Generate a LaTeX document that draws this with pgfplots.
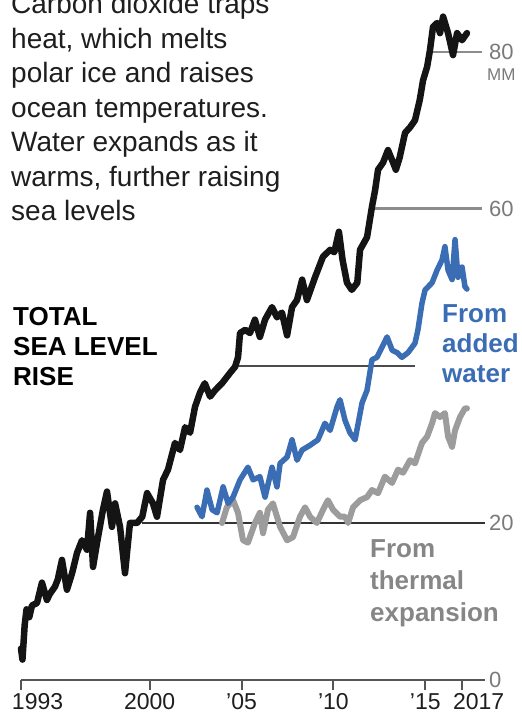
\documentclass[border=0pt]{standalone}
\usepackage{fontspec}
\setmainfont{Liberation Sans}
\usepackage{pgfplots}
\pgfplotsset{compat=1.18}
\usepackage{pgfplotstable}

\definecolor{totalc}{HTML}{141414}
\definecolor{waterc}{HTML}{3A6DB4}
\definecolor{thermc}{HTML}{9C9C9C}
\definecolor{thermtxt}{HTML}{868686}
\definecolor{gridc}{HTML}{8C8C8C}
\definecolor{axisc}{HTML}{555555}
\definecolor{tickc}{HTML}{7A7A7A}
\definecolor{bodyc}{HTML}{1E1E1E}

% total sea level rise, mm
\pgfplotstableread{
year mm
1993.00 4.0
1993.08 2.6
1993.20 7.0
1993.30 9.0
1993.45 8.0
1993.60 9.5
1993.87 9.8
1994.14 12.4
1994.41 10.2
1994.58 11.0
1994.85 11.9
1995.00 12.8
1995.23 15.3
1995.50 11.5
1995.78 13.6
1996.05 16.2
1996.32 17.8
1996.59 16.6
1996.76 21.3
1996.92 14.4
1997.14 17.5
1997.46 21.7
1997.68 24.0
1997.95 19.5
1998.12 22.5
1998.39 19.5
1998.66 13.6
1998.93 20.0
1999.31 20.0
1999.60 20.8
1999.86 23.8
2000.18 22.5
2000.40 20.8
2000.73 25.5
2001.00 26.8
2001.38 30.2
2001.65 29.3
2001.93 32.2
2002.20 31.5
2002.47 34.8
2002.74 36.6
2003.00 37.8
2003.29 36.1
2003.56 36.9
2003.94 37.8
2004.37 39.1
2004.65 39.9
2004.81 41.1
2004.92 44.2
2005.20 44.6
2005.46 44.2
2005.73 45.9
2006.00 43.7
2006.28 45.9
2006.66 47.5
2006.93 46.2
2007.20 46.8
2007.48 43.9
2007.75 47.5
2008.02 48.4
2008.30 51.0
2008.56 48.4
2009.00 51.3
2009.43 53.9
2009.82 54.8
2010.05 54.5
2010.30 57.1
2010.50 53.5
2010.74 50.6
2011.00 49.7
2011.30 50.6
2011.45 54.8
2011.83 56.4
2012.10 60.3
2012.27 62.4
2012.43 65.0
2012.70 65.9
2012.97 67.5
2013.25 65.9
2013.40 65.0
2013.60 66.5
2013.90 69.7
2014.17 70.4
2014.44 71.3
2014.70 73.9
2014.88 76.4
2015.10 78.1
2015.26 80.3
2015.42 83.2
2015.64 83.7
2015.80 82.4
2015.97 84.5
2016.24 82.4
2016.51 79.6
2016.73 82.4
2017.00 81.5
2017.27 82.4
}\totaltable

% from added water
\pgfplotstableread{
year mm
2002.58 22.0
2002.85 20.8
2003.12 24.2
2003.40 21.7
2003.67 21.3
2004.00 24.6
2004.27 22.5
2004.54 23.3
2004.92 25.5
2005.35 27.1
2005.63 25.5
2006.00 25.9
2006.28 23.3
2006.66 27.1
2006.93 24.6
2007.10 27.6
2007.48 28.4
2007.75 30.6
2008.02 28.0
2008.30 29.3
2008.73 29.9
2009.16 30.6
2009.54 32.7
2009.82 31.8
2010.20 34.8
2010.36 35.7
2010.63 33.1
2010.90 31.5
2011.18 30.6
2011.56 35.3
2011.83 36.9
2012.10 40.8
2012.37 41.1
2012.65 42.4
2012.92 43.7
2013.20 42.0
2013.47 41.7
2013.73 41.1
2014.06 41.7
2014.44 42.9
2014.60 44.6
2014.82 48.0
2014.99 49.7
2015.37 50.6
2015.64 52.2
2015.91 53.5
2016.07 55.2
2016.24 52.2
2016.46 51.0
2016.62 56.1
2016.78 51.3
2017.00 52.6
2017.16 50.1
2017.27 49.8
}\watertable

% from thermal expansion
\pgfplotstableread{
year mm
2003.94 20.0
2004.20 22.0
2004.54 22.9
2004.81 21.3
2005.08 17.8
2005.35 17.5
2005.73 20.0
2006.00 21.3
2006.17 18.7
2006.44 21.7
2006.71 22.5
2007.10 19.5
2007.48 17.8
2007.80 18.2
2008.18 20.8
2008.46 22.0
2008.73 20.8
2009.10 20.0
2009.44 21.7
2009.70 22.9
2009.98 21.7
2010.36 20.8
2010.63 20.8
2010.80 20.0
2011.07 22.0
2011.45 22.9
2011.83 23.3
2012.10 24.2
2012.43 23.8
2012.80 25.9
2013.19 25.1
2013.52 26.8
2013.79 26.4
2014.17 28.0
2014.44 27.6
2014.82 30.2
2015.10 31.0
2015.37 32.7
2015.53 34.0
2015.80 33.5
2016.07 34.0
2016.24 31.0
2016.46 29.7
2016.62 31.8
2016.89 33.5
2017.16 34.6
2017.27 34.6
}\thermtable

\newcommand{\bodyfont}{\fontsize{28}{34}\selectfont}
\newcommand{\labfont}{\bfseries\fontsize{26}{30}\selectfont}

\begin{document}
\begin{tikzpicture}
\begin{axis}[
  scale only axis,
  width=464pt, height=680pt,
  xmin=1993, xmax=2018.25,
  ymin=0, ymax=86.62,
  clip=false,
  axis x line*=bottom,
  axis y line*=right,
  x axis line style={draw=axisc, line width=2.5pt},
  y axis line style={draw=none},
  xtick={1993,2000,2005,2010,2015,2017},
  xticklabels={\makebox[0pt][l]{\kern-9pt 1993},2000,’05,’10,’15,\makebox[0pt][l]{\kern-9pt 2017}},
  xtick align=outside,
  major tick length=10pt,
  xtick style={draw=axisc, line width=2pt},
  xticklabel style={font=\fontsize{23}{27}\selectfont, text=bodyc},
  ytick={0,20,60,80},
  yticklabels={0,20,60,80},
  ytick style={draw=none},
  yticklabel style={font=\fontsize{22}{26}\selectfont, text=tickc, anchor=west, inner sep=0pt, xshift=4pt},
]
% partial reference lines
\draw[gridc, line width=1.5pt] (axis cs:2015.42,80) -- (axis cs:2018.1,80);
\draw[gridc, line width=3pt] (axis cs:2012.15,60) -- (axis cs:2018.1,60);
\draw[black!70, line width=1.3pt] (axis cs:2004.6,40) -- (axis cs:2014.45,40);
\draw[black!80, line width=1.5pt] (axis cs:1999.6,20) -- (axis cs:2018.25,20);

\addplot[thermc, line width=6pt, line join=round, line cap=round] table[x=year, y=mm] {\thermtable};
\addplot[waterc, line width=5.5pt, line join=round, line cap=round] table[x=year, y=mm] {\watertable};
\addplot[totalc, line width=6.5pt, line join=round, line cap=round] table[x=year, y=mm] {\totaltable};
\end{axis}

\begin{scope}[shift={([xshift=-21pt,yshift=680pt]current axis.south west)}, x=1pt, y=-1pt]
\begin{scope}[every node/.style={anchor=base west, inner sep=0pt, font=\bodyfont, text=bodyc}]
\node at (11,14) {Carbon dioxide traps};
\node at (11,48.5) {heat, which melts};
\node at (11,83) {polar ice and raises};
\node at (11,117.5) {ocean temperatures.};
\node at (11,152) {Water expands as it};
\node at (11,186.5) {warms, further raising};
\node at (11,221) {sea levels};
\end{scope}
\begin{scope}[every node/.style={anchor=base west, inner sep=0pt, font=\labfont}]
\node[text=black] at (13,326) {TOTAL};
\node[text=black] at (13,356) {SEA LEVEL};
\node[text=black] at (13,386) {RISE};
\node[text=waterc] at (442,323) {From};
\node[text=waterc] at (442,353) {added};
\node[text=waterc] at (442,383) {water};
\node[text=thermtxt] at (370,558) {From};
\node[text=thermtxt] at (370,590) {thermal};
\node[text=thermtxt] at (370,622) {expansion};
\end{scope}
\node[anchor=west, inner sep=0pt, font=\fontsize{17}{20}\selectfont, text=tickc] at (487,75) {MM};
\pgfresetboundingbox
\path[use as bounding box] (0,0) rectangle (522,718);
\end{scope}
\end{tikzpicture}
\end{document}
